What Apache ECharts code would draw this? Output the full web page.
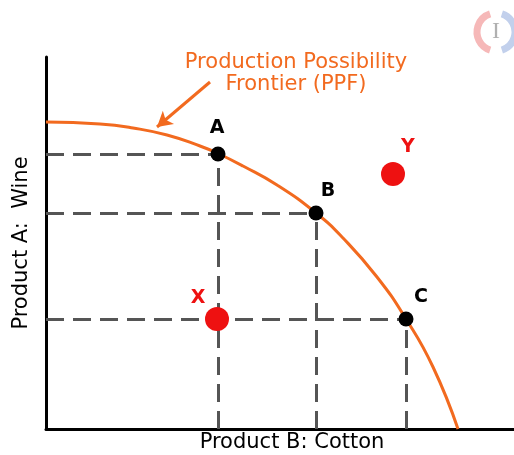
<!DOCTYPE html>
<html><head><meta charset="utf-8">
<script src="https://cdn.jsdelivr.net/npm/echarts@6/dist/echarts.min.js"></script>
<style>html,body{margin:0;padding:0;background:#fff}#c{width:514px;height:455px}</style>
</head><body><div id="c"></div>
<script>
// PPF curve (Product B: Cotton on x, Product A: Wine on y), arbitrary units
const ppfX = [0, 54, 87, 121, 154, 171, 197, 231, 270, 297, 331, 360, 387, 412];
const ppfY = [307, 305, 301, 294, 283, 276, 263, 244, 216, 191, 152, 110, 62, 0];
// points on the frontier
const frontierNames = ['A', 'B', 'C'];
const frontierX = [172, 270, 360];
const frontierY = [275, 216, 110];
// points off the frontier
const otherNames = ['X', 'Y'];
const otherX = [171, 347];
const otherY = [110, 255];
// annotation arrow (tail -> tip)
const arrowFrom = [164, 347];
const arrowTo = [111, 302];
const titleLines = ['Production Possibility', 'Frontier (PPF)'];
const xTitle = 'Product B: Cotton';
const yTitle = 'Product A:  Wine';

const ORANGE = '#f26a1f';
const labelOffsets = {A: [-1, -26], B: [12, -22], C: [15, -22], X: [-19, -21], Y: [15, -27]};
const font = 'DejaVu Sans, Verdana, sans-serif';

const guides = [];
frontierX.forEach((x, i) => {
  const y = frontierY[i];
  guides.push([{coord: [0, y]}, {coord: [x, y]}]);
  guides.push([{coord: [x, 0]}, {coord: [x, y]}]);
});

const chart = echarts.init(document.getElementById('c'));
chart.setOption({
  animation: false,
  grid: {left: 46, right: 0, top: 57, bottom: 26},
  xAxis: {type: 'value', min: 0, max: 468,
    axisLine: {lineStyle: {color: '#000', width: 3}}, axisTick: {show: false},
    axisLabel: {show: false}, splitLine: {show: false}},
  yAxis: {type: 'value', min: 0, max: 372,
    name: yTitle, nameLocation: 'middle', nameGap: 14,
    nameTextStyle: {fontFamily: font, fontSize: 21, color: '#000'},
    axisLine: {show: true, lineStyle: {color: '#000', width: 3}}, axisTick: {show: false},
    axisLabel: {show: false}, splitLine: {show: false}},
  series: [
    {type: 'line', data: [], z: 1, silent: true,
      markLine: {silent: true, symbol: ['none', 'none'], label: {show: false},
        lineStyle: {color: '#555', width: 3, type: [18, 9]}, data: guides}},
    {type: 'line', smooth: 0.5, showSymbol: false, z: 3,
      lineStyle: {color: ORANGE, width: 3},
      data: ppfX.map((x, i) => [x, ppfY[i]]),
      markLine: {silent: true, symbol: ['none', 'arrow'], symbolSize: [13, 15], label: {show: false},
        lineStyle: {color: ORANGE, width: 3, type: 'solid'},
        data: [[{coord: arrowFrom}, {coord: arrowTo}]]}},
    {type: 'scatter', z: 5, symbolSize: 15, itemStyle: {color: '#000', opacity: 1},
      label: {show: true, position: 'inside', color: '#000', fontSize: 19, fontWeight: 'bold', fontFamily: font},
      data: frontierNames.map((n, i) => ({name: n, value: [frontierX[i], frontierY[i]],
        label: {offset: labelOffsets[n], formatter: n}}))},
    {type: 'scatter', z: 5, symbolSize: 24, itemStyle: {color: '#ee1111', opacity: 1},
      label: {show: true, position: 'inside', color: '#ee1111', fontSize: 19, fontWeight: 'bold', fontFamily: font},
      data: otherNames.map((n, i) => ({name: n, value: [otherX[i], otherY[i]],
        label: {offset: labelOffsets[n], formatter: n}}))}
  ],
  graphic: [
    {type: 'text', x: 296, y: 63, style: {text: titleLines[0], fill: ORANGE,
      font: '21px ' + font, textAlign: 'center', textVerticalAlign: 'middle'}},
    {type: 'text', x: 296, y: 85, style: {text: titleLines[1], fill: ORANGE,
      font: '21px ' + font, textAlign: 'center', textVerticalAlign: 'middle'}},
    {type: 'text', x: 292, y: 443, style: {text: xTitle, fill: '#000',
      font: '21px ' + font, textAlign: 'center', textVerticalAlign: 'middle'}},
    {type: 'arc', shape: {cx: 496, cy: 32, r: 19, startAngle: Math.PI * 0.6, endAngle: Math.PI * 1.4},
      style: {stroke: '#f6b8b8', lineWidth: 7, fill: null}},
    {type: 'arc', shape: {cx: 496, cy: 32, r: 19, startAngle: -Math.PI * 0.4, endAngle: Math.PI * 0.4},
      style: {stroke: '#c2d0ec', lineWidth: 7, fill: null}},
    {type: 'text', x: 496, y: 32, style: {text: 'I', fill: '#b0b0b0',
      font: '24px Liberation Serif, serif', textAlign: 'center', textVerticalAlign: 'middle'}}
  ]
});
</script></body></html>
